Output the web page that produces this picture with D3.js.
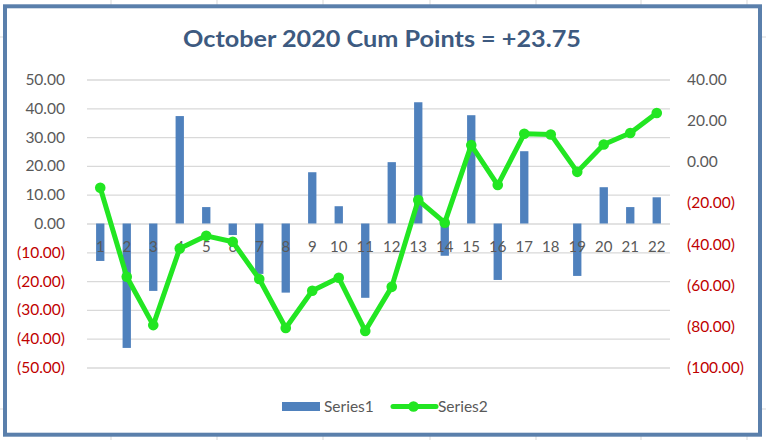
<!DOCTYPE html>
<html>
<head>
<meta charset="utf-8">
<script src="https://cdn.jsdelivr.net/npm/d3@7"></script>
<style>
  html, body { margin: 0; padding: 0; background: #fff; }
  svg { display: block; }
  text { font-family: Lato, "Open Sans", sans-serif; }
</style>
</head>
<body>
<svg id="chart" width="766" height="440"></svg>
<script>
const title = "October 2020 Cum Points = +23.75";
const categories = ["1","2","3","4","5","6","7","8","9","10","11","12","13","14","15","16","17","18","19","20","21","22"];
const series1 = [-13.0,-43.2,-23.4,37.3,5.7,-4.0,-17.5,-24.0,17.8,6.0,-25.8,21.3,42.1,-11.2,37.6,-19.6,25.1,0,-18.2,12.6,5.7,9.1];
const series2 = [-12.6,-55.9,-79.4,-42.1,-36.0,-38.9,-57.0,-80.8,-62.7,-56.4,-82.2,-60.8,-18.6,-29.6,8.1,-11.3,13.6,13.3,-4.9,8.4,14.0,23.75];
const leftTicks = [50,40,30,20,10,0,-10,-20,-30,-40,-50];
const rightTicks = [40,20,0,-20,-40,-60,-80,-100];
const seriesNames = ["Series1","Series2"];

const W = 766, H = 440;
const plot = {left: 87, right: 670, top: 79.5, bottom: 367.5};
const barColor = "#4F81BD", lineColor = "#22E622";
const posColor = "#595959", negColor = "#C00000";

const svg = d3.select("#chart");
svg.append("rect").attr("width", W).attr("height", H).attr("fill", "#fff");

// spreadsheet cell lines outside the chart frame
const cellX = [111, 217, 323, 430, 536, 641, 747];
const cellY = [37, 409];
const bg = svg.append("g").attr("stroke", "#D9D9D9").attr("stroke-width", 1);
cellX.forEach(x => {
  bg.append("line").attr("x1", x).attr("x2", x).attr("y1", 0).attr("y2", 5);
  bg.append("line").attr("x1", x).attr("x2", x).attr("y1", 436).attr("y2", 440);
});
cellY.forEach(y => {
  bg.append("line").attr("x1", 0).attr("x2", 3).attr("y1", y).attr("y2", y);
  bg.append("line").attr("x1", 762).attr("x2", 766).attr("y1", y).attr("y2", y);
});

// chart frame
svg.append("rect").attr("x", 5).attr("y", 6.3).attr("width", 755).attr("height", 428.4)
  .attr("fill", "#fff").attr("stroke", "#5A7FAB").attr("stroke-width", 4);

// title
svg.append("text").attr("x", 382).attr("y", 47)
  .attr("text-anchor", "middle").attr("font-size", 23.5).attr("font-weight", 700)
  .attr("fill", "#3D5A80").attr("textLength", 398).attr("lengthAdjust", "spacingAndGlyphs")
  .text(title);

const x = d3.scaleBand().domain(categories).range([plot.left, plot.right]).padding(0);
const yL = d3.scaleLinear().domain([-50, 50]).range([plot.bottom, plot.top]);
const yR = d3.scaleLinear().domain([-100, 40]).range([plot.bottom, plot.top]);

const fmt = v => v < 0 ? "(" + d3.format(".2f")(-v) + ")" : d3.format(".2f")(v);

// gridlines
const grid = svg.append("g").attr("transform", `translate(${plot.left},0)`)
  .call(d3.axisLeft(yL).tickValues(leftTicks).tickSize(-(plot.right - plot.left)).tickFormat(""));
grid.select(".domain").remove();
grid.selectAll("line").attr("stroke", "#D9D9D9").attr("stroke-width", 1.3);

// left axis labels
const ax = svg.append("g").attr("transform", `translate(${plot.left},0)`)
  .call(d3.axisLeft(yL).tickValues(leftTicks).tickSize(0).tickPadding(22).tickFormat(fmt));
ax.select(".domain").remove();
ax.selectAll("text").attr("font-size", 15.5).attr("font-family", "Lato, sans-serif")
  .attr("fill", d => d < 0 ? negColor : posColor);

// right axis labels
const axR = svg.append("g").attr("transform", `translate(${plot.right},0)`)
  .call(d3.axisRight(yR).tickValues(rightTicks).tickSize(0).tickPadding(17).tickFormat(fmt));
axR.select(".domain").remove();
axR.selectAll("text").attr("font-size", 15.5).attr("font-family", "Lato, sans-serif")
  .attr("fill", d => d < 0 ? negColor : posColor);

// bars
const bw = x.bandwidth() * 0.314;
svg.append("g").selectAll("rect").data(series1).join("rect")
  .attr("x", (d, i) => x(categories[i]) + x.bandwidth() / 2 - bw / 2)
  .attr("width", bw)
  .attr("y", d => yL(Math.max(0, d)))
  .attr("height", d => Math.abs(yL(d) - yL(0)))
  .attr("fill", barColor);

// category axis at zero
const cx = svg.append("g").attr("transform", `translate(0,${yL(0)})`)
  .call(d3.axisBottom(x).tickSize(0));
cx.select(".domain").remove();
cx.selectAll("text").attr("y", 23.4).attr("dy", "0.35em")
  .attr("font-size", 15).attr("font-family", "Lato, sans-serif").attr("fill", posColor);

// line
const line = d3.line().x((d, i) => x(categories[i]) + x.bandwidth() / 2).y(d => yR(d));
svg.append("path").datum(series2).attr("d", line)
  .attr("fill", "none").attr("stroke", lineColor).attr("stroke-width", 5)
  .attr("stroke-linejoin", "round").attr("stroke-linecap", "round");
svg.append("g").selectAll("circle").data(series2).join("circle")
  .attr("cx", (d, i) => x(categories[i]) + x.bandwidth() / 2)
  .attr("cy", d => yR(d)).attr("r", 5.3).attr("fill", lineColor);

// legend
const lg = svg.append("g");
lg.append("rect").attr("x", 282).attr("y", 402).attr("width", 38).attr("height", 9).attr("fill", barColor);
lg.append("text").attr("x", 324).attr("y", 406.7).attr("dy", "0.35em")
  .attr("font-size", 15.5).attr("fill", posColor).text(seriesNames[0]);
lg.append("line").attr("x1", 393).attr("x2", 436).attr("y1", 406.5).attr("y2", 406.5)
  .attr("stroke", lineColor).attr("stroke-width", 5).attr("stroke-linecap", "round");
lg.append("circle").attr("cx", 413.5).attr("cy", 406.5).attr("r", 5.3).attr("fill", lineColor);
lg.append("text").attr("x", 438).attr("y", 406.7).attr("dy", "0.35em")
  .attr("font-size", 15.5).attr("fill", posColor).text(seriesNames[1]);
</script>
</body>
</html>
